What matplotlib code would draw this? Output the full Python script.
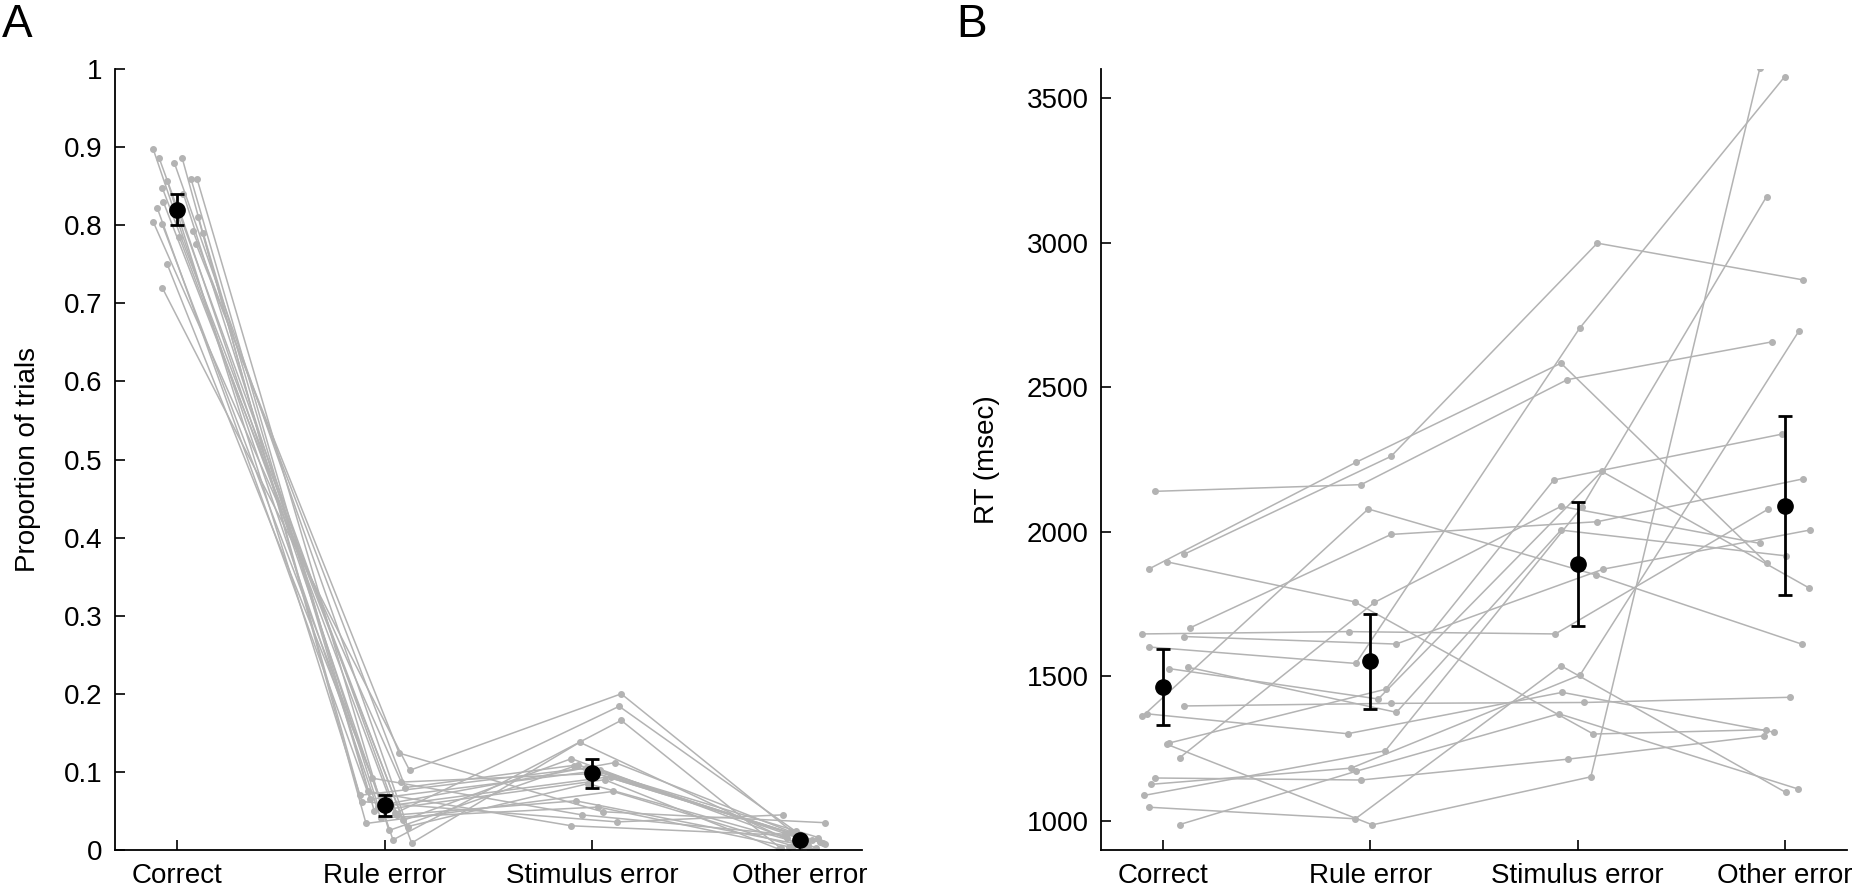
import matplotlib
matplotlib.use('Agg')
import matplotlib.pyplot as plt
from matplotlib.ticker import FormatStrFormatter

plt.rcParams['font.family'] = ['Liberation Sans', 'DejaVu Sans']

categories = ['Correct', 'Rule error', 'Stimulus error', 'Other error']

# panel A: proportion of trials, one row per subject (Correct, Rule, Stimulus, Other)
prop_subj = [
    [0.897, 0.041, 0.055, 0.004],
    [0.886, 0.045, 0.063, 0.006],
    [0.886, 0.034, 0.075, 0.005],
    [0.880, 0.030, 0.085, 0.003],
    [0.859, 0.050, 0.090, 0.001],
    [0.859, 0.025, 0.107, 0.009],
    [0.857, 0.062, 0.036, 0.045],
    [0.848, 0.009, 0.138, 0.000],
    [0.840, 0.055, 0.094, 0.010],
    [0.830, 0.038, 0.117, 0.015],
    [0.822, 0.065, 0.102, 0.012],
    [0.820, 0.013, 0.166, 0.002],
    [0.811, 0.070, 0.105, 0.013],
    [0.804, 0.087, 0.098, 0.008],
    [0.801, 0.058, 0.112, 0.023],
    [0.792, 0.080, 0.109, 0.016],
    [0.790, 0.075, 0.031, 0.018],
    [0.785, 0.047, 0.184, 0.024],
    [0.776, 0.124, 0.049, 0.035],
    [0.750, 0.092, 0.045, 0.020],
    [0.720, 0.102, 0.200, 0.007],
]
prop_jitter = [
    [-0.115, -0.02, 0.03, -0.05],
    [-0.087, 0.06, -0.08, 0.02],
    [0.024, -0.09, 0.10, -0.03],
    [-0.014, 0.11, -0.02, 0.08],
    [0.067, -0.05, 0.06, -0.10],
    [0.096, 0.02, -0.09, 0.11],
    [-0.048, -0.11, 0.12, -0.08],
    [-0.072, 0.13, -0.06, 0.05],
    [0.030, -0.03, 0.09, 0.10],
    [-0.067, 0.09, -0.10, -0.06],
    [-0.096, -0.07, 0.04, 0.03],
    [0.010, 0.04, 0.14, -0.09],
    [0.100, -0.12, -0.03, 0.06],
    [-0.115, 0.08, 0.02, 0.12],
    [-0.072, -0.01, 0.11, -0.04],
    [0.077, 0.10, -0.07, 0.09],
    [0.125, -0.08, -0.10, 0.01],
    [0.010, 0.05, 0.13, -0.02],
    [0.091, 0.07, 0.05, 0.12],
    [-0.048, -0.06, -0.05, -0.07],
    [-0.072, 0.12, 0.14, 0.04],
]
prop_mean = [0.820, 0.057, 0.098, 0.013]
prop_sem = [0.020, 0.013, 0.018, 0.003]

# panel B: RT (msec), one row per subject
rt_subj = [
    [2140, 2163, 2526, 2657],
    [1922, 2261, 2998, 2871],
    [1871, 2240, 2583, 1892],
    [1896, 1758, 1301, 1316],
    [1668, 1991, 2035, 2183],
    [1647, 1655, 1647, 2079],
    [1638, 1612, 1871, 2006],
    [1602, 1545, 2704, 3574],
    [1532, 1376, 2006, 1917],
    [1527, 1422, 2209, 1806],
    [1398, 1407, 1410, 1428],
    [1371, 1302, 1445, 1307],
    [1362, 2079, 1851, 1612],
    [1270, 1456, 2179, 2338],
    [1265, 987, 1153, 3604],
    [1219, 1756, 2088, 1960],
    [1149, 1142, 1214, 1295],
    [1127, 1183, 1505, 2693],
    [1089, 1243, 2085, 3159],
    [1048, 1008, 1537, 1099],
    [988, 1172, 1371, 1111],
]
rt_jitter = [
    [-0.04, -0.045, -0.05, -0.06],
    [0.10, 0.10, 0.095, 0.088],
    [-0.07, -0.07, -0.08, -0.088],
    [0.02, -0.076, 0.076, -0.09],
    [0.13, 0.10, 0.095, 0.088],
    [-0.10, -0.105, -0.107, -0.079],
    [0.10, 0.124, 0.124, 0.12],
    [-0.07, -0.07, 0.01, 0.0],
    [0.12, 0.126, -0.08, 0.005],
    [0.03, 0.038, 0.117, 0.117],
    [0.10, 0.098, 0.033, 0.024],
    [-0.08, -0.11, -0.074, -0.05],
    [-0.10, -0.01, 0.088, 0.081],
    [0.03, 0.074, -0.115, -0.012],
    [0.02, 0.01, 0.064, -0.12],
    [0.08, 0.02, -0.08, -0.12],
    [-0.04, -0.045, -0.048, -0.10],
    [-0.06, -0.093, 0.012, 0.067],
    [-0.09, 0.072, 0.02, -0.088],
    [-0.07, -0.072, -0.08, 0.005],
    [0.08, -0.07, -0.09, 0.064],
]
rt_mean = [1463, 1553, 1888, 2090]
rt_lo = [1332, 1386, 1674, 1780]
rt_hi = [1596, 1717, 2104, 2402]

GREY = '#b3b3b3'

fig = plt.figure(figsize=(18.6, 8.94), dpi=100)
axA = fig.add_axes([0.0618, 0.0492, 0.4016, 0.8736])
axB = fig.add_axes([0.5919, 0.0492, 0.4011, 0.8736])

x = [1, 2, 3, 4]


def style(ax):
    for s in ['top', 'right']:
        ax.spines[s].set_visible(False)
    for s in ['left', 'bottom']:
        ax.spines[s].set_linewidth(1.3)
    ax.tick_params(direction='in', length=7, width=1.2, labelsize=20, pad=9)
    ax.set_xlim(0.7, 4.3)
    ax.set_xticks(x)
    ax.set_xticklabels(categories)


# A
for vals, jit in zip(prop_subj, prop_jitter):
    xs = [xi + j for xi, j in zip(x, jit)]
    axA.plot(xs, vals, '-o', color=GREY, lw=1.1, ms=4.0, zorder=2)
axA.errorbar(x, prop_mean, yerr=prop_sem, fmt='o', color='black', ms=11,
             elinewidth=2, capsize=5, capthick=2, zorder=5)
style(axA)
axA.set_ylim(0, 1)
axA.set_yticks([i / 10 for i in range(11)])
axA.yaxis.set_major_formatter(FormatStrFormatter('%g'))
axA.set_ylabel('Proportion of trials', fontsize=20)
axA.yaxis.set_label_coords(-0.099, 0.5)

# B
for vals, jit in zip(rt_subj, rt_jitter):
    xs = [xi + j for xi, j in zip(x, jit)]
    axB.plot(xs, vals, '-o', color=GREY, lw=1.1, ms=4.0, zorder=2)
yerr = [[m - lo for m, lo in zip(rt_mean, rt_lo)],
        [hi - m for m, hi in zip(rt_mean, rt_hi)]]
axB.errorbar(x, rt_mean, yerr=yerr, fmt='o', color='black', ms=11,
             elinewidth=2, capsize=5, capthick=2, zorder=5)
style(axB)
axB.set_ylim(900, 3600)
axB.set_yticks([1000, 1500, 2000, 2500, 3000, 3500])
axB.set_ylabel('RT (msec)', fontsize=20)
axB.yaxis.set_label_coords(-0.135, 0.5)

fig.text(0.001, 0.997, 'A', fontsize=33, va='top', ha='left')
fig.text(0.514, 0.997, 'B', fontsize=33, va='top', ha='left')

fig.savefig('out.png', dpi=100)
